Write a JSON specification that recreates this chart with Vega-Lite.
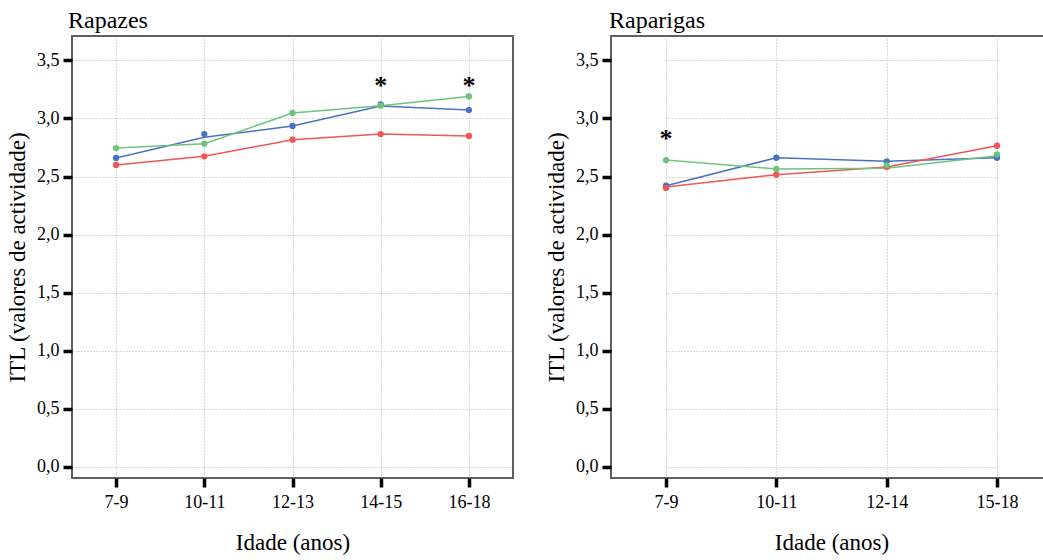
{
  "$schema": "https://vega.github.io/schema/vega-lite/v6.json",
  "background": "white",
  "padding": {"left": 5, "top": 8, "right": 0, "bottom": 0},
  "spacing": 30,
  "config": {
    "locale": {"number": {"decimal": ",", "thousands": ".", "grouping": [3], "currency": ["", " €"]}},
    "font": "Liberation Serif",
    "view": {"stroke": "#606060", "strokeWidth": 2},
    "axis": {
      "domain": false, "grid": true, "gridColor": "#b0b0b0", "gridDash": [1, 2], "gridWidth": 1,
      "tickColor": "black", "tickWidth": 3.5, "tickSize": 9,
      "labelFont": "Liberation Serif", "labelFontSize": 18, "labelColor": "black",
      "titleFont": "Liberation Serif", "titleFontSize": 23, "titleFontWeight": "normal", "titleColor": "black"
    },
    "title": {"font": "Liberation Serif", "fontSize": 24, "fontWeight": "normal", "anchor": "start", "frame": "group", "color": "black", "offset": 3, "dx": -4}
  },
  "datasets": {
    "itl": [
      {"sexo": "Rapazes", "idade": "7-9", "grupo": "Grupo A", "media": 2.66, "linha": 2.66},
      {"sexo": "Rapazes", "idade": "10-11", "grupo": "Grupo A", "media": 2.866, "linha": 2.838},
      {"sexo": "Rapazes", "idade": "12-13", "grupo": "Grupo A", "media": 2.935, "linha": 2.935},
      {"sexo": "Rapazes", "idade": "14-15", "grupo": "Grupo A", "media": 3.12, "linha": 3.107},
      {"sexo": "Rapazes", "idade": "16-18", "grupo": "Grupo A", "media": 3.072, "linha": 3.072},
      {"sexo": "Rapazes", "idade": "7-9", "grupo": "Grupo B", "media": 2.6, "linha": 2.6},
      {"sexo": "Rapazes", "idade": "10-11", "grupo": "Grupo B", "media": 2.674, "linha": 2.674},
      {"sexo": "Rapazes", "idade": "12-13", "grupo": "Grupo B", "media": 2.817, "linha": 2.817},
      {"sexo": "Rapazes", "idade": "14-15", "grupo": "Grupo B", "media": 2.866, "linha": 2.866},
      {"sexo": "Rapazes", "idade": "16-18", "grupo": "Grupo B", "media": 2.849, "linha": 2.849},
      {"sexo": "Rapazes", "idade": "7-9", "grupo": "Grupo C", "media": 2.745, "linha": 2.745},
      {"sexo": "Rapazes", "idade": "10-11", "grupo": "Grupo C", "media": 2.783, "linha": 2.783},
      {"sexo": "Rapazes", "idade": "12-13", "grupo": "Grupo C", "media": 3.047, "linha": 3.047},
      {"sexo": "Rapazes", "idade": "14-15", "grupo": "Grupo C", "media": 3.11, "linha": 3.11},
      {"sexo": "Rapazes", "idade": "16-18", "grupo": "Grupo C", "media": 3.19, "linha": 3.19},
      {"sexo": "Raparigas", "idade": "7-9", "grupo": "Grupo A", "media": 2.421, "linha": 2.421},
      {"sexo": "Raparigas", "idade": "10-11", "grupo": "Grupo A", "media": 2.662, "linha": 2.662},
      {"sexo": "Raparigas", "idade": "12-14", "grupo": "Grupo A", "media": 2.631, "linha": 2.631},
      {"sexo": "Raparigas", "idade": "15-18", "grupo": "Grupo A", "media": 2.662, "linha": 2.662},
      {"sexo": "Raparigas", "idade": "7-9", "grupo": "Grupo B", "media": 2.402, "linha": 2.41},
      {"sexo": "Raparigas", "idade": "10-11", "grupo": "Grupo B", "media": 2.516, "linha": 2.516},
      {"sexo": "Raparigas", "idade": "12-14", "grupo": "Grupo B", "media": 2.582, "linha": 2.582},
      {"sexo": "Raparigas", "idade": "15-18", "grupo": "Grupo B", "media": 2.765, "linha": 2.765},
      {"sexo": "Raparigas", "idade": "7-9", "grupo": "Grupo C", "media": 2.642, "linha": 2.642},
      {"sexo": "Raparigas", "idade": "10-11", "grupo": "Grupo C", "media": 2.565, "linha": 2.565},
      {"sexo": "Raparigas", "idade": "12-14", "grupo": "Grupo C", "media": 2.597, "linha": 2.571},
      {"sexo": "Raparigas", "idade": "15-18", "grupo": "Grupo C", "media": 2.691, "linha": 2.68}
    ],
    "sig": [
      {"sexo": "Rapazes", "idade": "14-15", "pos": 3.28, "marca": "*"},
      {"sexo": "Rapazes", "idade": "16-18", "pos": 3.28, "marca": "*"},
      {"sexo": "Raparigas", "idade": "7-9", "pos": 2.82, "marca": "*"}
    ]
  },
  "hconcat": [
    {
      "width": 441,
      "height": 442,
      "title": {"text": "Rapazes"},
      "layer": [
        {
          "data": {"name": "itl"},
          "transform": [{"filter": "datum.sexo === 'Rapazes'"}],
          "mark": {"type": "line", "strokeWidth": 1.5},
          "encoding": {
            "x": {"field": "idade", "type": "ordinal", "sort": ["7-9", "10-11", "12-13", "14-15", "16-18"], "scale": {"type": "point", "padding": 0.5}, "axis": {"labelAngle": 0, "title": "Idade (anos)", "labelPadding": 6, "titlePadding": 20}},
            "y": {"field": "linha", "type": "quantitative", "scale": {"domain": [-0.095, 3.71], "nice": false, "zero": false}, "axis": {"values": [0, 0.5, 1, 1.5, 2, 2.5, 3, 3.5], "format": ".1f", "title": "ITL (valores de actividade)", "labelPadding": 4, "titlePadding": 7}},
            "color": {"field": "grupo", "type": "nominal", "scale": {"domain": ["Grupo A", "Grupo B", "Grupo C"], "range": ["#4a72c2", "#f05656", "#6ec47c"]}, "legend": null}
          }
        },
        {
          "data": {"name": "itl"},
          "transform": [{"filter": "datum.sexo === 'Rapazes'"}],
          "mark": {"type": "point", "filled": true, "size": 40, "opacity": 1},
          "encoding": {
            "x": {"field": "idade", "type": "ordinal", "sort": ["7-9", "10-11", "12-13", "14-15", "16-18"]},
            "y": {"field": "media", "type": "quantitative"},
            "color": {"field": "grupo", "type": "nominal"}
          }
        },
        {
          "data": {"name": "sig"},
          "transform": [{"filter": "datum.sexo === 'Rapazes'"}],
          "mark": {"type": "text", "fontSize": 26, "fontWeight": "bold", "color": "black", "baseline": "middle"},
          "encoding": {
            "x": {"field": "idade", "type": "ordinal", "sort": ["7-9", "10-11", "12-13", "14-15", "16-18"]},
            "y": {"field": "pos", "type": "quantitative"},
            "text": {"field": "marca"}
          }
        }
      ]
    },
    {
      "width": 434,
      "height": 442,
      "title": {"text": "Raparigas", "dx": -2},
      "layer": [
        {
          "data": {"name": "itl"},
          "transform": [{"filter": "datum.sexo === 'Raparigas'"}],
          "mark": {"type": "line", "strokeWidth": 1.5},
          "encoding": {
            "x": {"field": "idade", "type": "ordinal", "sort": ["7-9", "10-11", "12-14", "15-18"], "scale": {"type": "point", "padding": 0, "range": [55, 386]}, "axis": {"labelAngle": 0, "title": "Idade (anos)", "labelPadding": 6, "titlePadding": 20}},
            "y": {"field": "linha", "type": "quantitative", "scale": {"domain": [-0.095, 3.71], "nice": false, "zero": false}, "axis": {"values": [0, 0.5, 1, 1.5, 2, 2.5, 3, 3.5], "format": ".1f", "title": "ITL (valores de actividade)", "labelPadding": 4, "titlePadding": 7}},
            "color": {"field": "grupo", "type": "nominal", "scale": {"domain": ["Grupo A", "Grupo B", "Grupo C"], "range": ["#4a72c2", "#f05656", "#6ec47c"]}, "legend": null}
          }
        },
        {
          "data": {"name": "itl"},
          "transform": [{"filter": "datum.sexo === 'Raparigas'"}],
          "mark": {"type": "point", "filled": true, "size": 40, "opacity": 1},
          "encoding": {
            "x": {"field": "idade", "type": "ordinal", "sort": ["7-9", "10-11", "12-14", "15-18"]},
            "y": {"field": "media", "type": "quantitative"},
            "color": {"field": "grupo", "type": "nominal"}
          }
        },
        {
          "data": {"name": "sig"},
          "transform": [{"filter": "datum.sexo === 'Raparigas'"}],
          "mark": {"type": "text", "fontSize": 26, "fontWeight": "bold", "color": "black", "baseline": "middle"},
          "encoding": {
            "x": {"field": "idade", "type": "ordinal", "sort": ["7-9", "10-11", "12-14", "15-18"]},
            "y": {"field": "pos", "type": "quantitative"},
            "text": {"field": "marca"}
          }
        }
      ]
    }
  ],
  "resolve": {"scale": {"x": "independent"}}
}
